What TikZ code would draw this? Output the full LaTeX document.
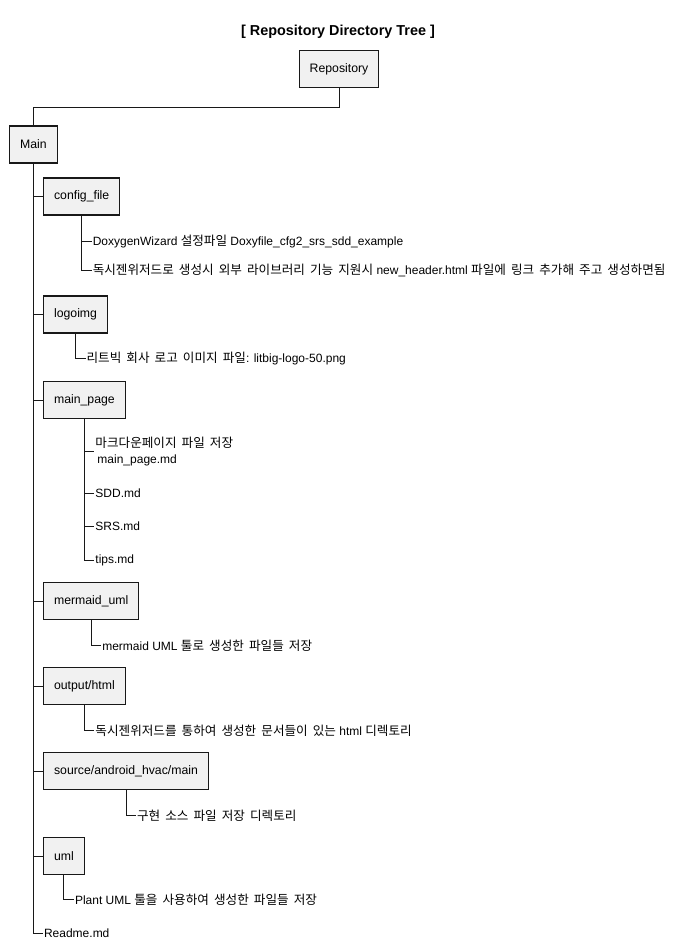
\documentclass[tikz,border=0pt]{standalone}
\usepackage{fontspec}
\setmainfont{Liberation Sans}
\newfontfamily\krfont[Scale=1.05,WordSpace=1.8]{Noto Sans CJK KR}
\newcommand\kr[1]{{\krfont #1}}
\usetikzlibrary{positioning}
\definecolor{boxfill}{HTML}{F1F1F1}
\definecolor{boxline}{HTML}{181818}
\tikzset{
  dirbox/.style={draw=boxline,fill=boxfill,line width=0.8pt,rectangle,
    minimum height=27.75pt,inner xsep=7.9pt,font=\fontsize{9.2}{12}\selectfont},
  leaf/.style={anchor=west,inner sep=0.6pt,align=left,font=\fontsize{9}{12}\selectfont},
  tree/.style={draw=boxline,line width=0.75pt}
}
\begin{document}
\begin{tikzpicture}[x=0.75pt,y=-0.75pt]
\useasboundingbox (0,0) rectangle (678,952);
% Title
\node[font=\bfseries\fontsize{10.8}{12}\selectfont] (title) at (338,31.5) {[ Repository Directory Tree ]};

% Nodes
\node[dirbox] (repo) at (339,69) {Repository};
\node[dirbox] (main) at (33.5,144.5) {Main};
\node[dirbox,anchor=west] (cfg) at (43,196.5) {config\_file};
\node[dirbox,anchor=west] (logo) at (43,314.5) {logoimg};
\node[dirbox,anchor=west] (mp) at (43,400) {main\_page};
\node[dirbox,anchor=west] (mer) at (43,601) {mermaid\_uml};
\node[dirbox,anchor=west] (out) at (43,686) {output/html};
\node[dirbox,anchor=west] (src) at (43,771) {source/android\_hvac/main};
\node[dirbox,anchor=west] (uml) at (43,856) {uml};
\node[leaf] (readme) at (43,933) {Readme.md};

% Files
\node[leaf] (c1) at ([shift={(10,26)}]cfg.south) {DoxygenWizard \kr{설정파일} Doxyfile\_cfg2\_srs\_sdd\_example};
\node[leaf] (c2) at ([shift={(10,55)}]cfg.south) {\kr{독시젠위저드로 생성시 외부 라이브러리 기능 지원시} new\_header.html \kr{파일에 링크 추가해 주고 생성하면됨}};
\node[leaf] (l1) at ([shift={(10,25)}]logo.south) {\kr{리트빅 회사 로고 이미지 파일}: litbig-logo-50.png};
\node[leaf] (m1) at ([shift={(10,32.5)}]mp.south) {\kr{마크다운페이지 파일 저장}\\\hspace{1.5pt}main\_page.md};
\node[leaf] (m2) at ([shift={(10,74.5)}]mp.south) {SDD.md};
\node[leaf] (m3) at ([shift={(10,107.5)}]mp.south) {SRS.md};
\node[leaf] (m4) at ([shift={(10,141.5)}]mp.south) {tips.md};
\node[leaf] (e1) at ([shift={(10,25.5)}]mer.south) {mermaid UML \kr{툴로 생성한 파일들 저장}};
\node[leaf] (o1) at ([shift={(10,25.5)}]out.south) {\kr{독시젠위저드를 통하여 생성한 문서들이 있는} html \kr{디렉토리}};
\node[leaf] (s1) at ([shift={(10,25.5)}]src.south) {\kr{구현 소스 파일 저장 디렉토리}};
\node[leaf] (u1) at ([shift={(10,24.5)}]uml.south) {Plant UML \kr{툴을 사용하여 생성한 파일들 저장}};

% Lines
\draw[tree] (repo.south) -- ++(0,19) -| (main.north);
\draw[tree] (main.south) |- (readme.west);
\foreach \d in {cfg,logo,mp,mer,out,src,uml}
  \draw[tree] (main.south |- \d.west) -- (\d.west);
\foreach \b/\f in {cfg/c1,cfg/c2,logo/l1,mp/m1,mp/m2,mp/m3,mp/m4,mer/e1,out/o1,src/s1,uml/u1}
  \draw[tree] (\b.south) |- (\f.west);
\end{tikzpicture}
\end{document}
